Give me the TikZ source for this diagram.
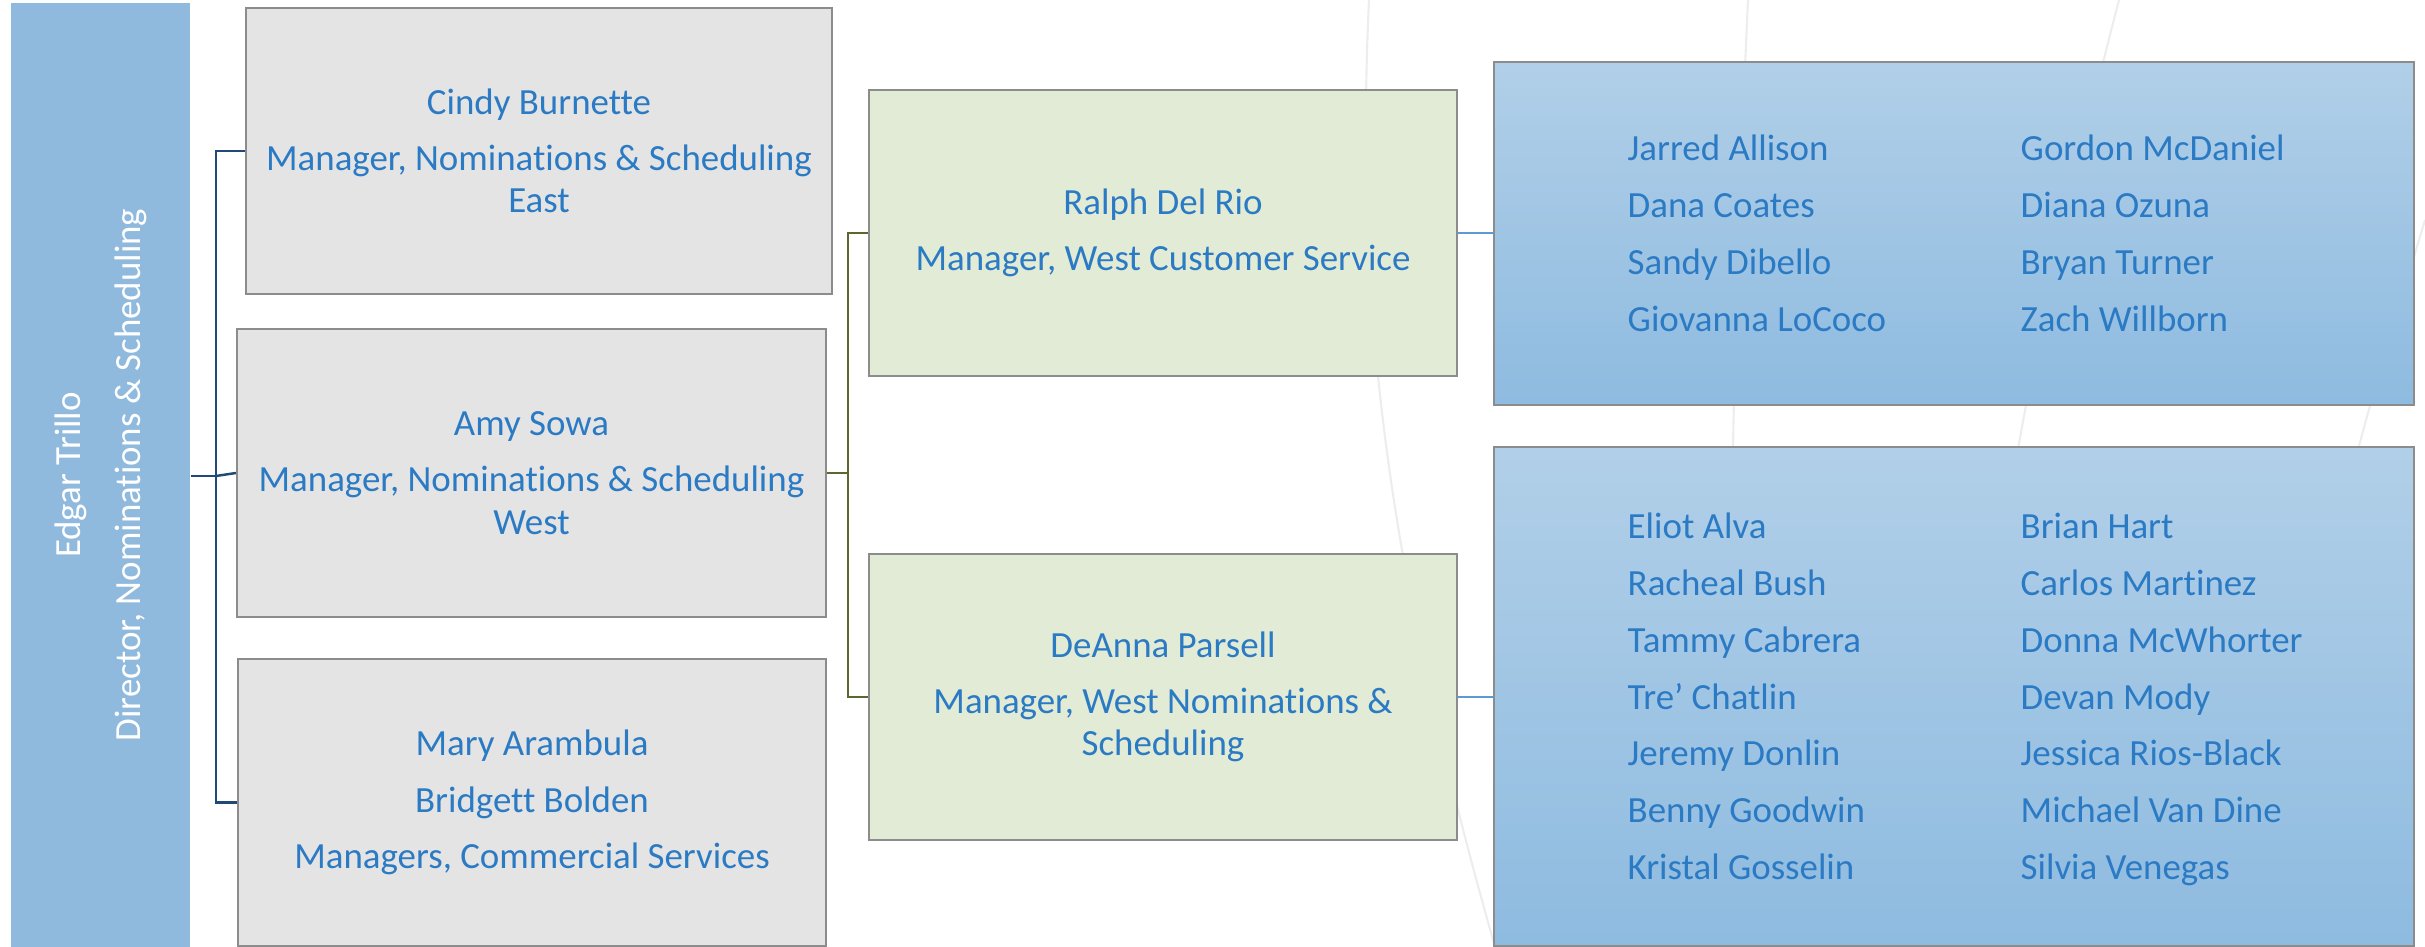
\documentclass[tikz,border=0pt]{standalone}
\usepackage{fontspec}
\setmainfont{Carlito}[Ligatures=NoCommon]
\definecolor{barblue}{RGB}{143,186,221}
\definecolor{txtblue}{RGB}{43,122,196}
\definecolor{boxgray}{RGB}{228,228,228}
\definecolor{boxgreen}{RGB}{226,235,213}
\definecolor{teamtop}{RGB}{177,207,232}
\definecolor{teambot}{RGB}{142,187,224}
\definecolor{navyline}{RGB}{31,73,118}
\definecolor{oliveline}{RGB}{90,104,44}
\definecolor{skyline}{RGB}{91,155,213}
\definecolor{edgegray}{RGB}{140,140,140}

\begin{document}
\begin{tikzpicture}[x=0.1mm, y=-0.1mm,
    every node/.style={font=\fontsize{10.5}{12}\selectfont, text=txtblue},
    mgr/.style={draw=edgegray, line width=0.6pt, fill=boxgray, align=center,
      inner sep=0pt, minimum width=58.8mm, minimum height=28.7mm},
    lead/.style={mgr, fill=boxgreen},
    team/.style={draw=edgegray, line width=0.6pt, top color=teamtop,
      bottom color=teambot, minimum width=92mm, inner sep=0pt},
    member/.style={anchor=base west, inner sep=0pt},
    link/.style={line width=0.7pt}]
  \useasboundingbox (0,0) rectangle (2425,947);

  % faint background arcs
  \draw[gray!14, line width=0.6pt] (1369,0) .. controls (1355,300) and (1385,560) .. (1495,947);
  \draw[gray!14, line width=0.6pt] (1748,0) .. controls (1732,350) and (1725,650) .. (1740,947);
  \draw[gray!14, line width=0.6pt] (2119,0) .. controls (2010,420) and (1965,700) .. (1985,947);
  \draw[gray!14, line width=0.6pt] (2425,220) .. controls (2395,320) and (2370,400) .. (2345,500);

  % director
  \node[fill=barblue, inner sep=0pt, minimum width=17.9mm, minimum height=94.4mm] (edgar) at (100.5,475) {};
  \node[rotate=90, align=center, text=white] (edgarname) at (edgar.center)
    {Edgar Trillo\\[5pt]Director, Nominations \& Scheduling};

  % managers
  \node[mgr, minimum width=58.6mm, minimum height=28.6mm] (cindy) at (539,151)
    {Cindy Burnette\\[4pt]Manager, Nominations \& Scheduling\\East};
  \node[mgr, minimum width=58.9mm, minimum height=28.8mm] (amy) at (531.5,473)
    {Amy Sowa\\[4pt]Manager, Nominations \& Scheduling\\West};
  \node[mgr] (mary) at (532,802.5)
    {Mary Arambula\\[4pt]Bridgett Bolden\\[4pt]Managers, Commercial Services};

  \node[lead, minimum height=28.6mm] (ralph) at (1163,233)
    {Ralph Del Rio\\[4pt]Manager, West Customer Service};
  \node[lead, minimum height=28.6mm] (deanna) at (1163,697)
    {DeAnna Parsell\\[4pt]Manager, West Nominations \&\\Scheduling};

  % teams
  \node[team, minimum height=34.3mm] (team1) at (1954,233.5) {};
  \node[team, minimum height=49.9mm] (team2) at (1954,696.5) {};

  \foreach \who [count=\i] in {Jarred Allison, Dana Coates, Sandy Dibello, Giovanna LoCoco}
    \node[member] (ta\i) at (1627,{161+57*(\i-1)}) {\who};
  \foreach \who [count=\i] in {Gordon McDaniel, Diana Ozuna, Bryan Turner, Zach Willborn}
    \node[member] (tb\i) at (2020,{161+57*(\i-1)}) {\who};
  \foreach \who [count=\i] in {Eliot Alva, Racheal Bush, Tammy Cabrera, Tre’ Chatlin,
      Jeremy Donlin, Benny Goodwin, Kristal Gosselin}
    \node[member] (tc\i) at (1627,{539+56.67*(\i-1)}) {\who};
  \foreach \who [count=\i] in {Brian Hart, Carlos Martinez, Donna McWhorter, Devan Mody,
      Jessica Rios-Black, Michael Van Dine, Silvia Venegas}
    \node[member] (td\i) at (2020,{539+56.67*(\i-1)}) {\who};

  % connectors
  \coordinate (ej) at (216,476);
  \draw[link, navyline] (edgar.east |- ej) -- (ej);
  \draw[link, navyline] (cindy.west) -| (ej) |- (mary.west);
  \draw[link, navyline] (ej) -- (amy.west);

  \coordinate (gj) at (848,476);
  \draw[link, oliveline] (amy.east) -- (amy.east -| gj);
  \draw[link, oliveline] (ralph.west) -| (gj) |- (deanna.west);

  \draw[link, skyline] (ralph.east) -- (ralph.east -| team1.west);
  \draw[link, skyline] (deanna.east) -- (deanna.east -| team2.west);
\end{tikzpicture}
\end{document}
